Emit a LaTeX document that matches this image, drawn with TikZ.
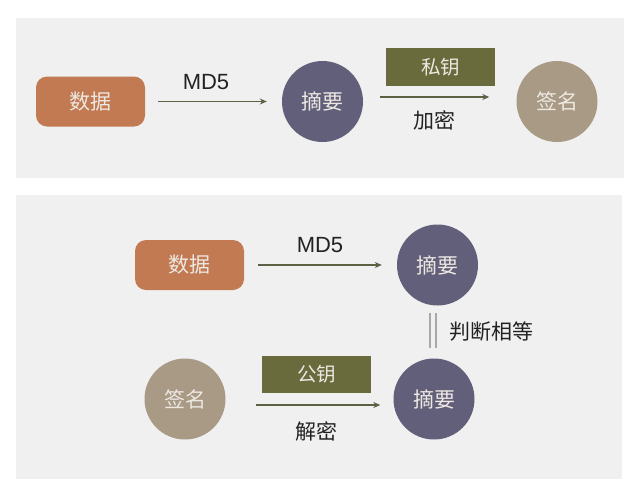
\documentclass[tikz,border=0pt]{standalone}
\usepackage{fontspec}
\setmainfont{Liberation Sans}
\newfontfamily\cjk{Noto Sans CJK SC}
\usetikzlibrary{arrows.meta}
\definecolor{panelbg}{HTML}{F0F0F0}
\definecolor{dataC}{HTML}{C27A52}
\definecolor{digC}{HTML}{615F79}
\definecolor{sigC}{HTML}{A99A85}
\definecolor{keyC}{HTML}{6A6B3C}
\definecolor{arrC}{HTML}{5C6144}
\definecolor{nodetxt}{HTML}{EEE8E2}
\definecolor{lbltxt}{HTML}{222222}
\definecolor{eqC}{HTML}{A8A8A8}
\tikzset{
  databox/.style={rectangle, rounded corners=11pt, fill=dataC, minimum width=109pt, minimum height=50pt, text=nodetxt, font=\cjk\fontsize{21}{24}\selectfont, inner sep=0pt},
  digcirc/.style={circle, fill=digC, minimum size=81pt, text=nodetxt, font=\cjk\fontsize{21}{24}\selectfont, inner sep=0pt},
  sigcirc/.style={circle, fill=sigC, minimum size=81pt, text=nodetxt, font=\cjk\fontsize{21}{24}\selectfont, inner sep=0pt},
  keybox/.style={rectangle, fill=keyC, minimum width=109pt, minimum height=38pt, text=nodetxt, font=\cjk\fontsize{19.5}{22}\selectfont, inner sep=0pt},
  lbl/.style={text=lbltxt, font=\cjk\fontsize{21}{24}\selectfont, inner sep=0pt},
  mdlbl/.style={text=lbltxt, font=\fontsize{22}{26}\selectfont, inner sep=0pt},
  arr/.style={draw=arrC, line width=1.2pt, -{Stealth[length=7pt,width=6pt]}},
  eqline/.style={draw=eqC, line width=1.4pt},
}
\begin{document}
\begin{tikzpicture}[x=1pt,y=-1pt]
\useasboundingbox (0,0) rectangle (640,496);
\fill[white] (0,0) rectangle (640,496);
% panels
\fill[panelbg] (16,18) rectangle (624,178);
\fill[panelbg] (16,195) rectangle (622,479);

% top row
\node[databox] (data1) at (90.5,101.5) {数据};
\node[digcirc] (dig1) at (322.5,101.5) {摘要};
\node[sigcirc] (sig1) at (557,101.5) {签名};
\node[keybox] (key1) at (440.5,67) {私钥};
\node[mdlbl] (md1) at (206,82) {MD5};
\node[lbl] (enc) at (434,120) {加密};
\draw[arr, shorten <=13pt, shorten >=15pt] (data1) -- (dig1);
\draw[arr, shorten <=17pt, shorten >=27pt] ([yshift=4.5pt]dig1.east) -- ([yshift=4.5pt]sig1.west);

% bottom
\node[databox] (data2) at (189.5,265) {数据};
\node[digcirc] (dig2) at (437.5,265) {摘要};
\node[mdlbl] (md2) at (320,245) {MD5};
\draw[arr, shorten <=14pt, shorten >=15pt] (data2) -- (dig2);

\node[sigcirc] (sig2) at (185,399) {签名};
\node[digcirc] (dig3) at (434,399) {摘要};
\node[keybox, minimum height=37pt] (key2) at (316.5,374.5) {公钥};
\node[lbl] (dec) at (316,431) {解密};
\draw[arr, shorten <=30pt, shorten >=13pt] ([yshift=-6pt]sig2.east) -- ([yshift=-6pt]dig3.west);

\coordinate (eqa) at (430,313);
\coordinate (eqb) at (430,348);
\coordinate (eqc) at (436,313);
\coordinate (eqd) at (436,348);
\draw[eqline] (eqa) -- (eqb);
\draw[eqline] (eqc) -- (eqd);
\node[lbl] (eqtxt) at (491,332) {判断相等};
\end{tikzpicture}
\end{document}
